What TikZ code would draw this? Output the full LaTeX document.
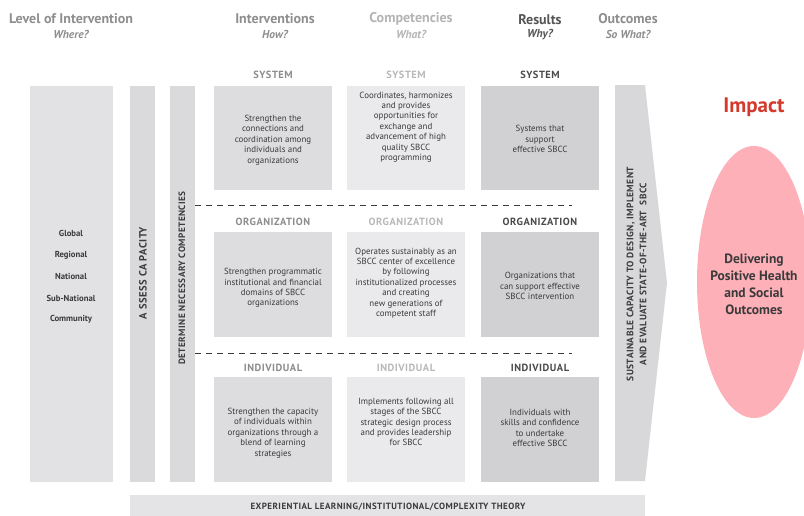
\documentclass[tikz,border=0pt]{standalone}
\usepackage{fontspec}
\setmainfont{PT Sans}
\usetikzlibrary{shapes.geometric}
\definecolor{leftc}{HTML}{E2E2E4}
\definecolor{barc}{HTML}{DADADC}
\definecolor{colA}{HTML}{DDDDDF}
\definecolor{colB}{HTML}{EAEAEC}
\definecolor{colC}{HTML}{D1D1D3}
\definecolor{arrowc}{HTML}{D8D8DA}
\definecolor{bottomc}{HTML}{E4E4E6}
\definecolor{pinkc}{HTML}{FDB0B8}
\definecolor{impactc}{HTML}{D33A2C}
\definecolor{headg}{HTML}{8E8E8E}
\definecolor{headl}{HTML}{B4B4B4}
\definecolor{headd}{HTML}{555555}
\definecolor{txtd}{HTML}{3A3A3A}
\definecolor{hdA}{HTML}{8C8C8C}
\definecolor{hdB}{HTML}{B8B8B8}
\definecolor{hdC}{HTML}{4A4A4A}
\newcommand{\capsfont}[2]{\bfseries\fontsize{#1}{#2}\selectfont\addfontfeatures{LetterSpace=5}}
\tikzset{
  boxshape/.style={draw=none, inner sep=0, minimum width=118pt, minimum height=105pt},
  boxtext/.style={inner sep=0, align=center, text=txtd, font=\fontsize{8.9}{10.4}\selectfont},
  title/.style={inner sep=0, font=\bfseries\fontsize{14}{16}\selectfont},
  subtitle/.style={inner sep=0, font=\bfseries\itshape\fontsize{11.5}{13}\selectfont},
  colhead/.style={inner sep=0, font=\capsfont{10.4}{12}},
  levellabel/.style={inner sep=0, text=txtd, font=\bfseries\fontsize{8.7}{10}\selectfont},
  vertlabel/.style={inner sep=0, rotate=90, text=txtd, align=center},
  dashline/.style={draw=txtd, line width=0.9pt, dash pattern=on 6pt off 5pt}
}
\begin{document}
\begin{tikzpicture}[x=1pt, y=-1pt]
\useasboundingbox (0,0) rectangle (804,515);
\clip (0,0) rectangle (804,515);

% column titles
\node[title, text=headg] (t1) at (71,19) {Level of Intervention};
\node[subtitle, text=headg] (s1) at (71,34) {Where?};
\node[title, text=headg] (t2) at (275,19) {Interventions};
\node[subtitle, text=headg] (s2) at (275,34) {How?};
\node[title, text=headl] (t3) at (411,19) {Competencies};
\node[subtitle, text=headl] (s3) at (411,34) {What?};
\node[title, text=headd] (t4) at (540,20) {Results};
\node[subtitle, text=headd] (s4) at (540,35) {Why?};
\node[title, text=headg] (t5) at (628,19) {Outcomes};
\node[subtitle, text=headg] (s5) at (628,34) {So What?};

% left box and bars
\node[fill=leftc, inner sep=0, minimum width=83pt, minimum height=396pt] (left) at (71.5,283.5) {};
\node[fill=barc, inner sep=0, minimum width=25pt, minimum height=396pt] (assess) at (142.5,283.5) {};
\node[fill=barc, inner sep=0, minimum width=25pt, minimum height=396pt] (determine) at (182.5,283.5) {};

\node[levellabel] (lv1) at (71,233) {Global};
\node[levellabel] (lv2) at (71,255) {Regional};
\node[levellabel] (lv3) at (71,276) {National};
\node[levellabel] (lv4) at (71,298) {Sub-National};
\node[levellabel] (lv5) at (71,319) {Community};

\node[vertlabel, font=\capsfont{10.5}{12}] (assesst) at (143,273) {A SSESS CA PACITY};
\node[vertlabel, font=\capsfont{9.2}{11}] (determinet) at (182,278) {DETERMINE NECESSARY COMPETENCIES};

% arrow bar
\fill[arrowc] (615,85) -- (645,85) -- (667,283) -- (645,481) -- (615,481) -- cycle;
\node[vertlabel, font=\capsfont{9.4}{13}] (arrowt) at (636.5,274) {SUSTAINABLE CAPACITY TO DESIGN, IMPLEMENT\\AND EVALUATE STATE-OF-THE-ART\ \ SBCC};

% row headers
\node[colhead, text=hdA] (h11) at (273,75) {SYSTEM};
\node[colhead, text=hdB] (h12) at (406,75) {SYSTEM};
\node[colhead, text=hdC] (h13) at (540,75) {SYSTEM};
\node[colhead, text=hdA] (h21) at (273,222) {ORGANIZATION};
\node[colhead, text=hdB] (h22) at (406,222) {ORGANIZATION};
\node[colhead, text=hdC] (h23) at (540,222) {ORGANIZATION};
\node[colhead, text=hdA] (h31) at (273,368) {INDIVIDUAL};
\node[colhead, text=hdB] (h32) at (406,368) {INDIVIDUAL};
\node[colhead, text=hdC] (h33) at (540,368) {INDIVIDUAL};

% boxes
\node[boxshape, fill=colA, minimum height=104pt] (b11) at (273,138) {};
\node[boxshape, fill=colB, minimum height=104pt] (b12) at (406,138) {};
\node[boxshape, fill=colC, minimum height=104pt] (b13) at (540,138) {};
\node[boxshape, fill=colA] (b21) at (273,284.5) {};
\node[boxshape, fill=colB] (b22) at (406,284.5) {};
\node[boxshape, fill=colC] (b23) at (540,284.5) {};
\node[boxshape, fill=colA] (b31) at (273,429.5) {};
\node[boxshape, fill=colB] (b32) at (406,429.5) {};
\node[boxshape, fill=colC] (b33) at (540,429.5) {};

% box texts
\node[boxtext] (x11) at (273,140) {Strengthen the\\connections and\\coordination among\\individuals and\\organizations};
\node[boxtext] (x12) at (406,127) {Coordinates, harmonizes\\and provides\\opportunities for\\exchange and\\advancement of high\\quality SBCC\\programming};
\node[boxtext] (x13) at (540,139) {Systems that\\support\\effective SBCC};
\node[boxtext] (x21) at (273,288) {Strengthen programmatic\\institutional and financial\\domains of SBCC\\organizations};
\node[boxtext] (x22) at (406,283) {Operates sustainably as an\\SBCC center of excellence\\by following\\institutionalized processes\\and creating\\new generations of\\competent staff};
\node[boxtext] (x23) at (540,286) {Organizations that\\can support effective\\SBCC intervention};
\node[boxtext] (x31) at (273,433) {Strengthen the capacity\\of individuals within\\organizations through a\\blend of learning\\strategies};
\node[boxtext] (x32) at (406,422) {Implements following all\\stages of the SBCC\\strategic design process\\and provides leadership\\for SBCC};
\node[boxtext] (x33) at (540,428) {Individuals with\\skills and confidence\\to undertake\\effective SBCC};

% dashed separators
\coordinate (d1s) at (195,205);
\coordinate (d1e) at (572,205);
\coordinate (d2s) at (195,353);
\coordinate (d2e) at (572,353);
\draw[dashline] (d1s) -- (d1e);
\draw[dashline] (d2s) -- (d2e);

% bottom bar
\node[fill=bottomc, inner sep=0, minimum width=515pt, minimum height=22pt] (bottom) at (387.5,506) {};
\node[inner sep=0, text=txtd, font=\capsfont{9}{10}] (bottomt) at (388,507) {EXPERIENTIAL LEARNING/INSTITUTIONAL/COMPLEXITY THEORY};

% impact
\node[inner sep=0, text=impactc, font=\bfseries\fontsize{21}{24}\selectfont] (impact) at (754,107) {Impact};
\node[ellipse, fill=pinkc, inner sep=0, minimum width=114pt, minimum height=272pt] (oval) at (754,282) {};
\node[inner sep=0, align=center, text=txtd, font=\bfseries\fontsize{13.5}{17}\selectfont] (ovalt) at (754,284) {Delivering\\Positive Health\\and Social\\Outcomes};
\end{tikzpicture}
\end{document}
